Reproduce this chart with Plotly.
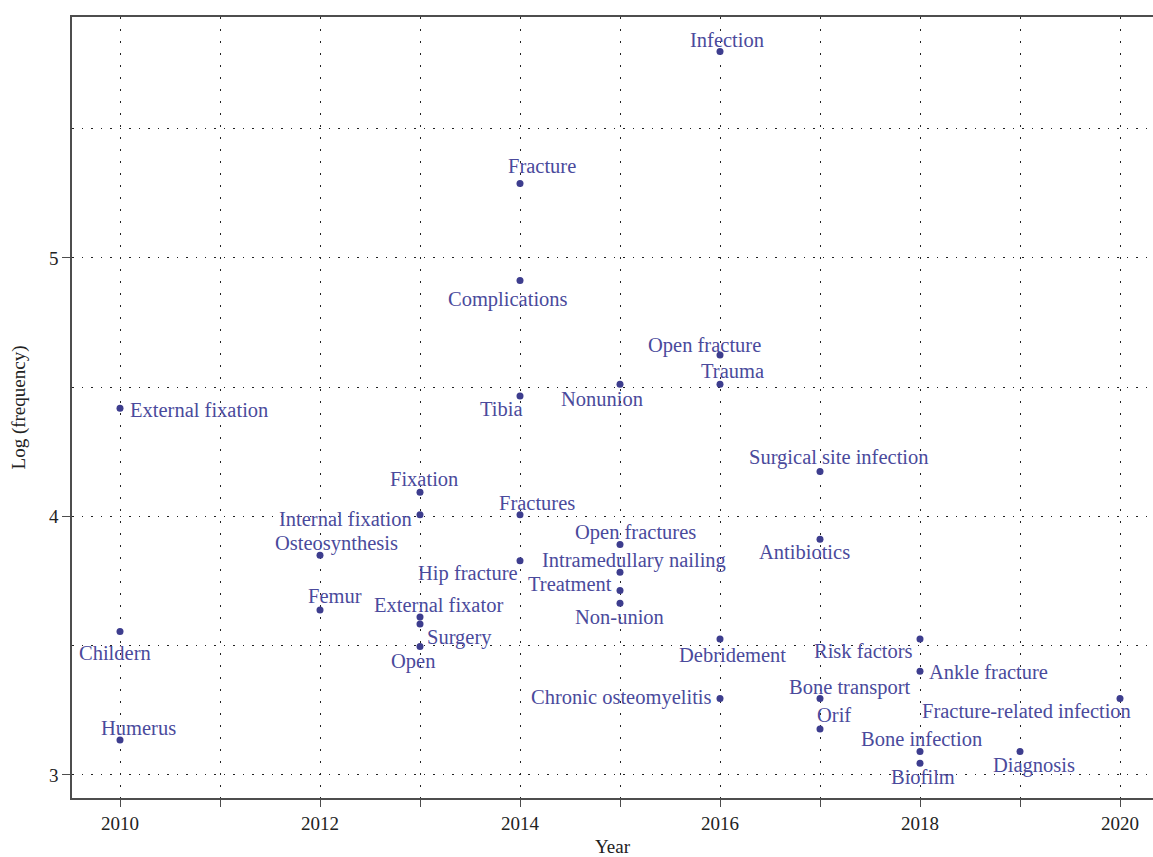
import plotly.graph_objects as go

# Data
keywords = ["Infection", "Fracture", "Complications", "Open fracture", "Trauma", "Nonunion",
            "Tibia", "External fixation", "Surgical site infection", "Fixation", "Internal fixation",
            "Fractures", "Open fractures", "Antibiotics", "Osteosynthesis", "Hip fracture",
            "Intramedullary nailing", "Treatment", "Non-union", "Femur", "External fixator",
            "Surgery", "Open", "Childern", "Debridement", "Risk factors", "Ankle fracture",
            "Chronic osteomyelitis", "Bone transport", "Fracture-related infection", "Orif",
            "Humerus", "Bone infection", "Diagnosis", "Biofilm"]
years = [2016, 2014, 2014, 2016, 2016, 2015,
         2014, 2010, 2017, 2013, 2013,
         2014, 2015, 2017, 2012, 2014,
         2015, 2015, 2015, 2012, 2013,
         2013, 2013, 2010, 2016, 2018, 2018,
         2016, 2017, 2020, 2017,
         2010, 2018, 2019, 2018]
log_freq = [5.799, 5.288, 4.913, 4.625, 4.511, 4.511,
            4.466, 4.419, 4.174, 4.094, 4.007,
            4.007, 3.892, 3.912, 3.850, 3.829,
            3.784, 3.714, 3.664, 3.638, 3.611,
            3.584, 3.497, 3.555, 3.526, 3.526, 3.401,
            3.296, 3.296, 3.296, 3.178,
            3.135, 3.091, 3.091, 3.045]

x_tickvals = list(range(2010, 2021))
x_ticktext = [str(v) if v % 2 == 0 else "" for v in x_tickvals]
y_tickvals = [3, 4, 5]

# Label placement: (xanchor, dx px, dy px down)
label_pos = {
    "Infection": ("center", 7, -11),
    "Fracture": ("center", 22, -17),
    "Complications": ("center", -12, 19),
    "Open fracture": ("center", -16, -9),
    "Trauma": ("center", 12, -13),
    "Nonunion": ("center", -18, 15),
    "Tibia": ("center", -19, 13),
    "External fixation": ("left", 8, 2),
    "Surgical site infection": ("center", 19, -14),
    "Fixation": ("center", 4, -13),
    "Internal fixation": ("right", -6, 4),
    "Fractures": ("center", 17, -12),
    "Open fractures": ("center", 15, -12),
    "Antibiotics": ("center", -16, 13),
    "Osteosynthesis": ("center", 16, -12),
    "Hip fracture": ("right", 0, 13),
    "Intramedullary nailing": ("center", 14, -12),
    "Treatment": ("right", -6, -6),
    "Non-union": ("center", -1, 14),
    "Femur": ("center", 15, -14),
    "External fixator": ("center", 18, -12),
    "Surgery": ("left", 5, 13),
    "Open": ("center", -7, 15),
    "Childern": ("center", -5, 21),
    "Debridement": ("center", 12, 16),
    "Risk factors": ("right", -5, 12),
    "Ankle fracture": ("left", 7, 1),
    "Chronic osteomyelitis": ("right", -6, -1),
    "Bone transport": ("center", 30, -11),
    "Fracture-related infection": ("right", 13, 13),
    "Orif": ("center", 14, -14),
    "Humerus": ("center", 18, -12),
    "Bone infection": ("center", 1, -12),
    "Diagnosis": ("center", 14, 14),
    "Biofilm": ("center", 3, 14),
}

point_color = "#3d3d8e"
text_color = "#4a4a9c"
serif = "Liberation Serif"

fig = go.Figure()
fig.add_trace(go.Scatter(
    x=years, y=log_freq, mode="markers",
    marker=dict(size=7, color=point_color),
    hoverinfo="text", text=keywords, showlegend=False,
))

for kw, xv, yv in zip(keywords, years, log_freq):
    anc, dx, dy = label_pos[kw]
    fig.add_annotation(
        x=xv, y=yv, text=kw, showarrow=False,
        xanchor=anc, yanchor="middle",
        xshift=dx, yshift=-dy,
        font=dict(family=serif, size=20.5, color=text_color),
    )

axis_line = "#4d4d4d"
grid_color = "#222222"

fig.update_layout(
    width=1153, height=857,
    margin=dict(l=72, r=0, t=17, b=59),
    paper_bgcolor="white", plot_bgcolor="white",
    font=dict(family=serif, size=19, color="#222222"),
    xaxis=dict(
        range=[2009.52, 2020.33],
        tickvals=x_tickvals, ticktext=x_ticktext,
        ticks="outside", ticklen=7, tickcolor=axis_line, tickwidth=1.3,
        showline=True, linecolor=axis_line, linewidth=1.5, mirror=True,
        showgrid=True, gridcolor=grid_color, griddash="1.5px,10.5px", gridwidth=1,
        zeroline=False,
        title=dict(text="Year", font=dict(family=serif, size=19), standoff=8),
        tickfont=dict(family=serif, size=19),
        automargin=False,
    ),
    yaxis=dict(
        range=[2.911, 5.932],
        tickvals=y_tickvals,
        ticks="outside", ticklen=8, tickcolor=axis_line, tickwidth=1.3,
        showline=True, linecolor=axis_line, linewidth=1.5, mirror=False,
        showgrid=True, gridcolor=grid_color, griddash="1.5px,8px", gridwidth=1,
        minor=dict(dtick=0.5, tick0=3, showgrid=True, gridcolor=grid_color,
                   griddash="1.5px,8px", gridwidth=1, ticks=""),
        zeroline=False,
        title=dict(text="Log (frequency)", font=dict(family=serif, size=19), standoff=18),
        tickfont=dict(family=serif, size=19),
        automargin=False,
    ),
)

fig.write_html(
    "out.html",
    config={"displayModeBar": False},
    post_script="document.body.style.margin='0';document.body.style.overflow='hidden';",
)
